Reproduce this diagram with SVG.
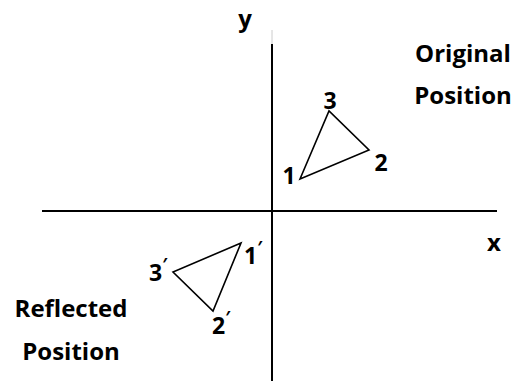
<svg xmlns="http://www.w3.org/2000/svg" width="514" height="381" viewBox="0 0 514 381">
<style>
.t{font-family:"Open Sans","Liberation Sans",sans-serif;font-weight:bold;fill:#000}
.big{font-size:24px}
.num{font-size:23px}
.pr{font-size:17px}
.ln{stroke:#000;stroke-width:2;fill:none}
.tri{stroke:#000;stroke-width:1.6;fill:none;stroke-linejoin:miter}
</style>
<rect width="514" height="381" fill="#fff"/>
<g id="axes">
<line class="ln" x1="272" y1="44" x2="272" y2="381"/>
<line x1="272" y1="30" x2="272" y2="44" stroke="#ccc" stroke-width="1"/>
<line class="ln" x1="42" y1="211" x2="497" y2="211"/>
<text class="t big" x="245" y="27" text-anchor="middle">y</text>
<text class="t big" x="494" y="251" text-anchor="middle">x</text>
</g>
<g id="original">
<polygon class="tri" points="300,179 329,111 369,150"/>
<text class="t num" x="289" y="184" text-anchor="middle">1</text>
<text class="t num" x="330" y="109" text-anchor="middle">3</text>
<text class="t num" x="381" y="171" text-anchor="middle">2</text>
<text class="t big" x="463" y="62" text-anchor="middle">Original</text>
<text class="t big" x="463" y="104" text-anchor="middle">Position</text>
</g>
<g id="reflected">
<polygon class="tri" points="241,243 173,272 213,311"/>
<text class="t num" x="244" y="264">1<tspan class="pr" dy="-10">′</tspan></text>
<text class="t num" x="149" y="281">3<tspan class="pr" dy="-10">′</tspan></text>
<text class="t num" x="212" y="334">2<tspan class="pr" dy="-10">′</tspan></text>
<text class="t big" x="71" y="317" text-anchor="middle">Reflected</text>
<text class="t big" x="71" y="360" text-anchor="middle">Position</text>
</g>
</svg>
